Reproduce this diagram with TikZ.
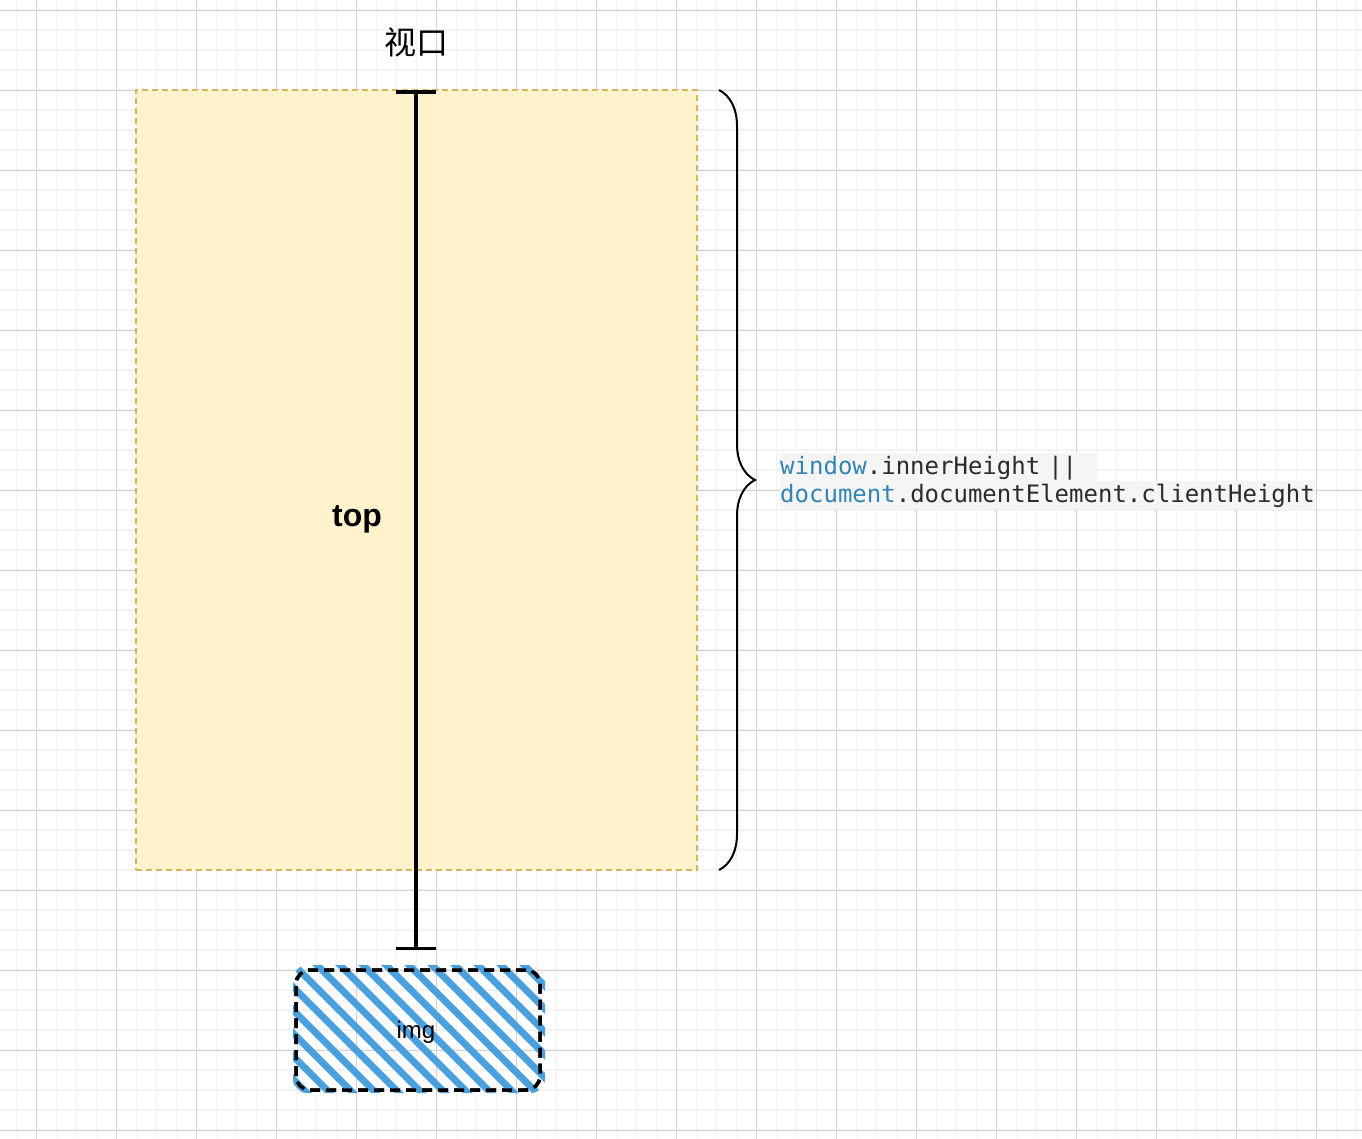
\documentclass[tikz,border=0pt]{standalone}
\usepackage{fontspec}
\setmainfont{Liberation Sans}
\setmonofont{DejaVu Sans Mono}
\newfontfamily\cjkfont{Noto Sans CJK SC}
\usepackage{xcolor}
\usetikzlibrary{arrows.meta}
\usetikzlibrary{decorations.pathreplacing}

\definecolor{gridmajor}{HTML}{D2D2D2}
\definecolor{gridminor}{HTML}{F3F3F3}
\definecolor{vpfill}{HTML}{FFF2CC}
\definecolor{vpborder}{HTML}{D6B656}
\definecolor{hatchblue}{HTML}{4A9FDD}
\definecolor{codeblue}{HTML}{3383B5}
\definecolor{codetext}{HTML}{2B2B2B}
\definecolor{codebg}{HTML}{F5F5F5}

\tikzset{
  minorline/.style={gridminor,line width=1.5pt},
  majorline/.style={gridmajor,line width=1pt},
  viewbox/.style={draw=vpborder,fill=vpfill,line width=1.5pt,dash pattern=on 6pt off 4pt,
    minimum width=561pt,minimum height=780pt,inner sep=0pt},
  imgbox/.style={draw=black,line width=3.5pt,dash pattern=on 10pt off 6pt,rounded corners=14pt,
    minimum width=244pt,minimum height=120pt,inner sep=0pt},
  hatch/.style={hatchblue,line width=7pt,line cap=round},
  codeline/.style={fill=codebg,inner sep=0pt,text height=21pt,text depth=7pt,align=left,
    font=\fontsize{24}{28}\selectfont\ttfamily,text=codetext,anchor=north west}
}

\begin{document}
\begin{tikzpicture}[x=1pt,y=-1pt]
  \useasboundingbox (0,0) rectangle (1362,1138);
  \fill[white] (0,0) rectangle (1362,1138);
  % grid
  \foreach \i in {0,...,67} \draw[minorline] ({16.7+20*\i},0) -- ++(0,1138);
  \foreach \i in {0,...,56} \draw[minorline] (0,{10+20*\i}) -- ++(1362,0);
  \foreach \i in {0,...,16} \draw[majorline] ({36.7+80*\i},0) -- ++(0,1138);
  \foreach \i in {0,...,14} \draw[majorline] (0,{10+80*\i}) -- ++(1362,0);

  % viewport
  \node[viewbox] (viewport) at (416.5,480) {};
  \node[font=\fontsize{32}{36}\selectfont\cjkfont] (vplabel) at (416,42) {视口};

  % img box
  \node[imgbox] (img) at (418,1030) {};
  \begin{scope}
    \clip[rounded corners=14pt] (293,965) rectangle (545,1093);
    \foreach \k in {-7,...,10}
      \draw[hatch] ({-648+23*\k+940},940) -- ++(180,180);
  \end{scope}
  \node[imgbox,fill=none] at (img) {};
  \node[font=\fontsize{24}{28}\selectfont] (imglabel) at (416,1032) {img};

  % top distance
  \coordinate (vtop) at (416,90);
  \coordinate (vbot) at (416,950);
  \draw[line width=3.5pt,{Bar[width=40pt]}-{Bar[width=40pt]}] (vtop) -- (vbot);
  \node[font=\fontsize{32}{36}\selectfont\bfseries] (toplabel) at (357,519) {top};

  % brace
  \coordinate (btop) at (719,90);
  \coordinate (bbot) at (719,870);
  \draw[line width=2pt,decorate,decoration={brace,amplitude=36pt}] (btop) -- (bbot);

  % code
  \node[codeline,text width=317pt] (code1) at (780,453)
    {\textcolor{codeblue}{window}.innerHeight ||};
  \node[codeline,text width=535pt] (code2) at (780,481)
    {\textcolor{codeblue}{document}.documentElement.clientHeight};
\end{tikzpicture}
\end{document}
